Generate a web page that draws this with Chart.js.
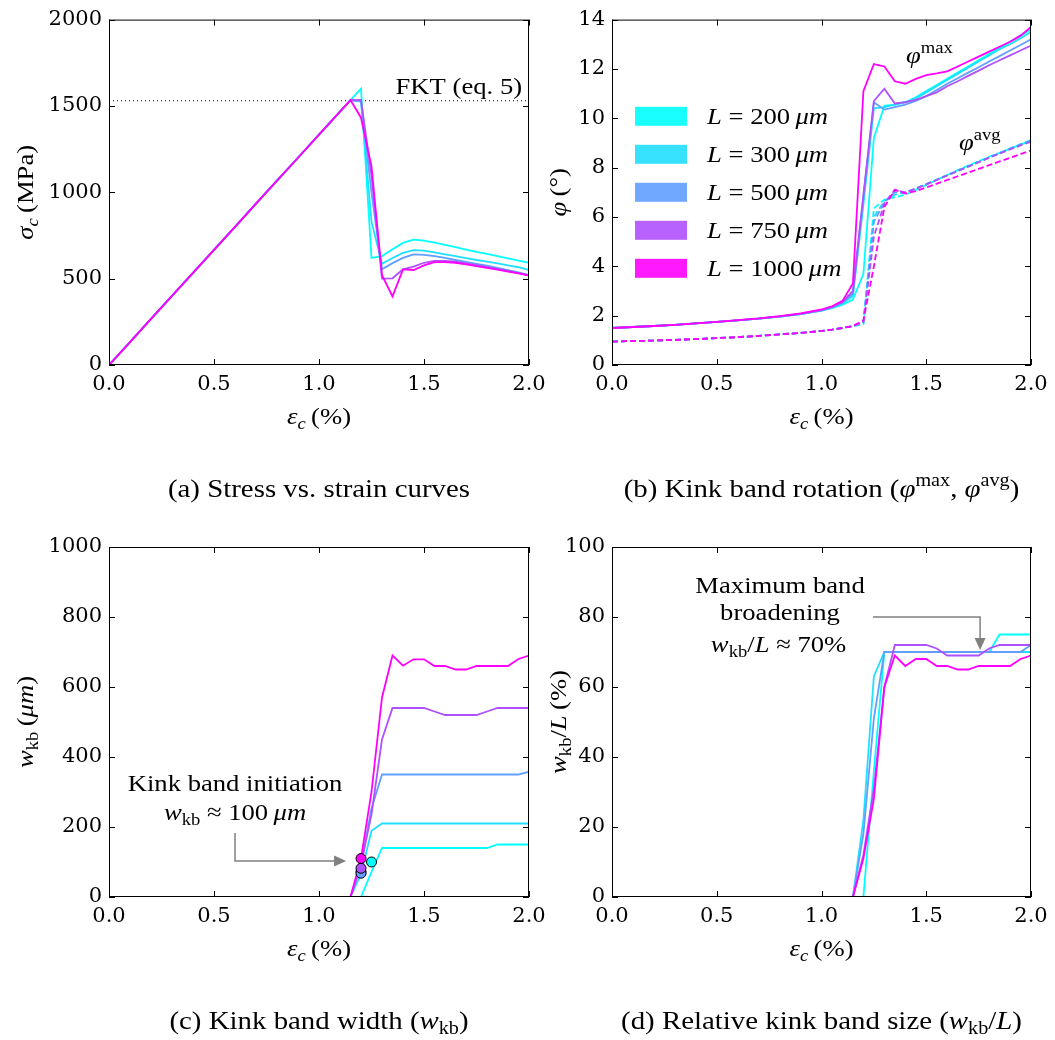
<!DOCTYPE html>
<html><head><meta charset="utf-8">
<script src="https://cdn.jsdelivr.net/npm/chart.js@4.4.1/dist/chart.umd.min.js"></script>
<style>
html,body{margin:0;padding:0;background:#fff;}
#wrap{position:relative;width:1055px;height:1040px;overflow:hidden;background:#fff;}
canvas{position:absolute;}
</style></head><body>
<div id="wrap">
<canvas id="ca" width="560" height="525" style="left:0px;top:0px"></canvas>
<canvas id="cb" width="535" height="525" style="left:520px;top:0px"></canvas>
<canvas id="cc" width="560" height="515" style="left:0px;top:525px"></canvas>
<canvas id="cd" width="535" height="515" style="left:520px;top:525px"></canvas>
</div>
<script>
// ---------------- DATA ----------------
const lengthLabels = ['200', '300', '500', '750', '1000'];
const strain = [0.0,0.1,0.2,0.3,0.4,0.5,0.6,0.7,0.8,0.9,1.0,1.05,1.1,1.15,1.2,1.25,1.3,1.35,1.4,1.45,1.5,1.55,1.6,1.65,1.7,1.75,1.8,1.85,1.9,1.95,2.0];

// (a) stress (MPa)
const stress200  = [0,133,267,400,534,667,800,934,1067,1200,1334,1400,1467,1534,1600,620,630,670,707,726,720,708,695,682,668,655,643,630,617,604,592];
const stress300  = [0,133,267,400,534,667,800,934,1067,1200,1334,1400,1467,1534,1525,830,586,620,649,665,662,652,641,630,619,608,598,588,577,566,550];
const stress500  = [0,133,267,400,534,667,800,934,1067,1200,1334,1400,1467,1534,1528,1000,554,590,620,640,638,630,620,608,597,586,575,562,550,537,520];
const stress750  = [0,133,267,400,534,667,800,934,1067,1200,1334,1400,1467,1534,1535,1100,500,502,554,570,592,603,603,598,588,578,567,555,545,532,520];
const stress1000 = [0,133,267,400,534,667,800,934,1067,1200,1334,1400,1467,1534,1432,1150,520,397,554,550,577,596,596,592,583,573,563,552,541,530,518];
const fktStrain = [0.0, 2.0];
const fktStress = [1530, 1530];

// (b) kink band rotation (deg)
const phiMax200  = [1.5,1.54,1.58,1.63,1.69,1.75,1.81,1.88,1.96,2.06,2.2,2.3,2.45,2.65,3.7,9.2,10.5,10.55,10.65,10.85,11.1,11.35,11.6,11.85,12.1,12.35,12.6,12.85,13.1,13.35,13.6];
const phiMax300  = [1.5,1.54,1.58,1.63,1.69,1.75,1.81,1.88,1.96,2.06,2.2,2.32,2.5,2.8,6.5,10.4,10.45,10.55,10.65,10.8,11.05,11.3,11.55,11.8,12.05,12.3,12.55,12.8,13.0,13.25,13.5];
const phiMax500  = [1.5,1.54,1.58,1.63,1.69,1.75,1.81,1.88,1.96,2.06,2.21,2.33,2.52,2.9,6.8,10.65,10.35,10.45,10.55,10.7,10.9,11.15,11.4,11.62,11.85,12.07,12.3,12.52,12.75,12.97,13.2];
const phiMax750  = [1.5,1.54,1.58,1.63,1.69,1.75,1.81,1.88,1.97,2.07,2.22,2.35,2.55,3.0,6.9,10.7,11.2,10.6,10.65,10.75,10.9,11.05,11.3,11.5,11.72,11.93,12.15,12.35,12.55,12.75,12.95];
const phiMax1000 = [1.5,1.54,1.58,1.63,1.69,1.75,1.82,1.89,1.98,2.09,2.25,2.38,2.6,3.3,11.1,12.2,12.1,11.5,11.4,11.6,11.75,11.82,11.9,12.1,12.3,12.5,12.7,12.9,13.1,13.35,13.7];
const phiAvg200  = [0.95,0.97,0.99,1.02,1.05,1.09,1.13,1.18,1.24,1.3,1.38,1.43,1.5,1.58,1.65,6.35,6.7,6.8,6.9,7.1,7.3,7.5,7.7,7.9,8.08,8.26,8.44,8.6,8.77,8.93,9.1];
const phiAvg300  = [0.95,0.97,0.99,1.02,1.05,1.09,1.13,1.18,1.24,1.3,1.38,1.43,1.5,1.58,1.7,6.0,6.65,6.9,7.0,7.15,7.33,7.52,7.7,7.88,8.06,8.24,8.42,8.6,8.78,8.95,9.12];
const phiAvg500  = [0.95,0.97,0.99,1.02,1.05,1.09,1.13,1.18,1.24,1.3,1.38,1.43,1.5,1.58,1.72,5.8,6.6,7.0,7.0,7.15,7.33,7.5,7.68,7.86,8.04,8.22,8.4,8.58,8.76,8.93,9.1];
const phiAvg750  = [0.95,0.97,0.99,1.02,1.05,1.09,1.13,1.18,1.24,1.3,1.38,1.43,1.5,1.58,1.75,5.2,6.55,7.1,7.0,7.15,7.32,7.5,7.68,7.86,8.04,8.22,8.4,8.57,8.74,8.9,9.05];
const phiAvg1000 = [0.95,0.97,0.99,1.02,1.05,1.09,1.13,1.18,1.24,1.3,1.38,1.43,1.5,1.58,1.8,4.0,6.4,7.1,6.95,7.05,7.2,7.35,7.5,7.65,7.8,7.95,8.1,8.25,8.4,8.55,8.7];

// (c) kink band width (um)
const width200  = [0,0,0,0,0,0,0,0,0,0,0,0,0,0,0,72,140,140,140,140,140,140,140,140,140,140,140,150,150,150,150];
const width300  = [0,0,0,0,0,0,0,0,0,0,0,0,0,0,66,189,210,210,210,210,210,210,210,210,210,210,210,210,210,210,210];
const width500  = [0,0,0,0,0,0,0,0,0,0,0,0,0,0,90,253,350,350,350,350,350,350,350,350,350,350,350,350,350,350,358];
const width750  = [0,0,0,0,0,0,0,0,0,0,0,0,0,0,93,236,450,540,540,540,540,530,520,520,520,520,530,540,540,540,540];
const width1000 = [0,0,0,0,0,0,0,0,0,0,0,0,0,0,110,300,570,690,661,679,679,660,660,650,650,660,660,660,660,680,690];
const initStrain = [1.25, 1.2, 1.2, 1.2, 1.2];
const initWidth  = [100, 72, 68, 82, 110];

// (d) relative kink band size (%)
const ratio200  = [0,0,0,0,0,0,0,0,0,0,0,0,0,0,0,36,70,70,70,70,70,70,70,70,70,70,70,75,75,75,75];
const ratio300  = [0,0,0,0,0,0,0,0,0,0,0,0,0,0,22,63,70,70,70,70,70,70,70,70,70,70,70,70,70,70,70];
const ratio500  = [0,0,0,0,0,0,0,0,0,0,0,0,0,0,18,51,70,70,70,70,70,70,70,70,70,70,70,70,70,70,72];
const ratio750  = [0,0,0,0,0,0,0,0,0,0,0,0,0,0,12,31,60,72,72,72,72,71,69,69,69,69,71,72,72,72,72];
const ratio1000 = [0,0,0,0,0,0,0,0,0,0,0,0,0,0,11,28,60,69,66,68,68,66,66,65,65,66,66,66,66,68,69];

// ---------------- STYLE / LAYOUT ----------------
const COLORS = ['#00ffff', '#20dfff', '#609fff', '#af50ff', '#ff00ff'];
const SERIF = '"Liberation Serif", "Times New Roman", serif';
const TICKFONT = '"DejaVu Serif", serif';
const HS = 1.11;           // horizontal stretch to emulate Computer Modern widths
const TXT = 24;            // in-figure text size
const CAP = 26;            // caption size

const PANELS = {
  a: { left: 0,   top: 0,   l: 109, r: 529,  t: 16,  b: 365 },
  b: { left: 520, top: 0,   l: 612, r: 1031, t: 16,  b: 365 },
  c: { left: 0,   top: 525, l: 109, r: 529,  t: 547, b: 897 },
  d: { left: 520, top: 525, l: 612, r: 1031, t: 547, b: 897 }
};

function segInfo(ctx, seg, size) {
  const t = seg[0], st = seg[1];
  const italic = st[0] === 'i';
  const mod = st[1] || '';
  const fs = mod ? size * 0.7 : size;
  const dy = mod === '_' ? size * 0.2 : (mod === '^' ? -size * 0.42 : 0);
  const font = (italic ? 'italic ' : '') + fs.toFixed(1) + 'px ' + SERIF;
  ctx.font = font;
  return { t, font, dy, w: ctx.measureText(t).width * HS };
}
function drawRich(ctx, segs, x, y, size, align, angle) {
  const items = segs.map(s => segInfo(ctx, s, size));
  const total = items.reduce((a, b) => a + b.w, 0);
  ctx.save();
  ctx.translate(x, y);
  if (angle) ctx.rotate(angle);
  ctx.textBaseline = 'alphabetic';
  ctx.textAlign = 'left';
  ctx.fillStyle = '#000';
  let cx = align === 'center' ? -total / 2 : (align === 'right' ? -total : 0);
  for (const it of items) {
    ctx.save();
    ctx.translate(cx, it.dy);
    ctx.scale(HS, 1);
    ctx.font = it.font;
    ctx.fillText(it.t, 0, 0);
    ctx.restore();
    cx += it.w;
  }
  ctx.restore();
}
function drawArrow(ctx, pts) {
  ctx.save();
  ctx.strokeStyle = '#808080'; ctx.fillStyle = '#808080'; ctx.lineWidth = 1.5;
  const n = pts.length;
  const tx = pts[n - 1][0], ty = pts[n - 1][1];
  const px = pts[n - 2][0], py = pts[n - 2][1];
  const ang = Math.atan2(ty - py, tx - px);
  const L = 12, W = 5.5;
  const bx = tx - L * Math.cos(ang), by = ty - L * Math.sin(ang);
  ctx.beginPath();
  ctx.moveTo(pts[0][0], pts[0][1]);
  for (let i = 1; i < n - 1; i++) ctx.lineTo(pts[i][0], pts[i][1]);
  ctx.lineTo(bx, by);
  ctx.stroke();
  ctx.beginPath();
  ctx.moveTo(tx, ty);
  ctx.lineTo(bx - W * Math.sin(ang), by + W * Math.cos(ang));
  ctx.lineTo(bx + W * Math.sin(ang), by - W * Math.cos(ang));
  ctx.closePath();
  ctx.fill();
  ctx.restore();
}

const decor = {
  id: 'decor',
  afterDatasetsDraw(chart, args, o) {
    const ctx = chart.ctx, a = chart.chartArea;
    const xs = chart.scales.x, ys = chart.scales.y;
    ctx.save();
    ctx.strokeStyle = '#000';
    ctx.lineWidth = 1;
    ctx.strokeRect(a.left + 0.5, a.top + 0.5, a.right - a.left - 1, a.bottom - a.top - 1);
    ctx.beginPath();
    xs.ticks.forEach(t => {
      const p = Math.round(xs.getPixelForValue(t.value)) + 0.5;
      ctx.moveTo(p, a.bottom); ctx.lineTo(p, a.bottom - 6);
      ctx.moveTo(p, a.top); ctx.lineTo(p, a.top + 6);
    });
    ys.ticks.forEach(t => {
      const p = Math.round(ys.getPixelForValue(t.value)) + 0.5;
      ctx.moveTo(a.left, p); ctx.lineTo(a.left + 6, p);
      ctx.moveTo(a.right, p); ctx.lineTo(a.right - 6, p);
    });
    ctx.stroke();
    ctx.restore();
  },
  afterDraw(chart, args, o) {
    const ctx = chart.ctx, a = chart.chartArea;
    const xs = chart.scales.x, ys = chart.scales.y;
    const X = v => xs.getPixelForValue(v), Y = v => ys.getPixelForValue(v);
    const cxA = (a.left + a.right) / 2, cyA = (a.top + a.bottom) / 2;
    drawRich(ctx, o.xLabel, cxA, a.bottom + 59, TXT, 'center', 0);
    drawRich(ctx, o.yLabel, a.left + o.yLabelDx, cyA, TXT, 'center', -Math.PI / 2);
    drawRich(ctx, o.caption, cxA, a.bottom + 132, CAP, 'center', 0);
    (o.texts || []).forEach(t => drawRich(ctx, t.segs, X(t.x), Y(t.y), TXT, t.align, 0));
    (o.arrows || []).forEach(ar => drawArrow(ctx, ar.map(p => [X(p[0]), Y(p[1])])));
    if (o.legend) {
      const L = o.legend;
      L.labels.forEach((lab, k) => {
        const yc = a.top + L.y0 + L.dy * k;
        ctx.save();
        ctx.globalAlpha = 0.9;
        ctx.fillStyle = L.colors[k];
        ctx.fillRect(a.left + L.x0, yc - L.h / 2, L.w, L.h);
        ctx.restore();
        drawRich(ctx, [['L', 'i'], [' = ', 'r'], [lab, 'r'], ['\u2009', 'r'], ['\u03bcm', 'i']], a.left + L.tx, yc + 8, TXT, 'left', 0);
      });
    }
  }
};

function series(vals, color, dash) {
  return {
    type: 'line',
    data: strain.map((x, i) => ({ x: x, y: vals[i] })),
    borderColor: color, borderWidth: 1.8, borderDash: dash || [],
    pointRadius: 0, fill: false, tension: 0
  };
}

function makeChart(id, P, datasets, ymin, ymax, ystep, deco) {
  const cv = document.getElementById(id);
  const W = cv.width, H = cv.height;
  // later datasets in the list are drawn on top (like matplotlib)
  datasets.forEach((d, i) => { d.order = datasets.length - i; });
  return new Chart(cv, {
    type: 'line',
    data: { datasets: datasets },
    options: {
      responsive: false, animation: false, devicePixelRatio: 1,
      layout: { padding: { left: 0, top: P.t - P.top, right: W - (P.r - P.left), bottom: 0 } },
      plugins: { legend: { display: false }, tooltip: { enabled: false }, decor: deco },
      scales: {
        x: {
          type: 'linear', min: 0, max: 2,
          ticks: { stepSize: 0.5, autoSkip: false, maxRotation: 0, color: '#000', padding: 7,
                   font: { family: TICKFONT, size: 21 }, callback: v => Number(v).toFixed(1) },
          grid: { display: false, drawTicks: false }, border: { display: false },
          afterFit: s => { s.height = H - (P.b - P.top); }
        },
        y: {
          type: 'linear', min: ymin, max: ymax,
          ticks: { stepSize: ystep, autoSkip: false, color: '#000', padding: 7,
                   font: { family: TICKFONT, size: 21 }, callback: v => String(v) },
          grid: { display: false, drawTicks: false }, border: { display: false },
          afterFit: s => { s.width = P.l - P.left; }
        }
      }
    },
    plugins: [decor]
  });
}

const xLab = [['\u03b5', 'i'], ['c', 'i_'], ['\u2009(%)', 'r']];

// (a)
makeChart('ca', PANELS.a, [
  { type: 'line', data: fktStrain.map((x, i) => ({ x: x, y: fktStress[i] })), borderColor: '#000', borderWidth: 1,
    borderDash: [1, 3], pointRadius: 0, fill: false },
  series(stress200, COLORS[0]), series(stress300, COLORS[1]), series(stress500, COLORS[2]),
  series(stress750, COLORS[3]), series(stress1000, COLORS[4])
], 0, 2000, 500, {
  xLabel: xLab,
  yLabel: [['\u03c3', 'i'], ['c', 'i_'], ['\u2009(MPa)', 'r']], yLabelDx: -76,
  caption: [['(a) Stress vs. strain curves', 'r']],
  texts: [{ segs: [['FKT (eq. 5)', 'r']], x: 1.967, y: 1570, align: 'right' }]
});

// (b)
makeChart('cb', PANELS.b, [
  series(phiMax200, COLORS[0]), series(phiMax300, COLORS[1]), series(phiMax500, COLORS[2]),
  series(phiMax750, COLORS[3]), series(phiMax1000, COLORS[4]),
  series(phiAvg200, COLORS[0], [6, 3]), series(phiAvg300, COLORS[1], [6, 3]), series(phiAvg500, COLORS[2], [6, 3]),
  series(phiAvg750, COLORS[3], [6, 3]), series(phiAvg1000, COLORS[4], [6, 3])
], 0, 14, 2, {
  xLabel: xLab,
  yLabel: [['\u03c6', 'i'], ['\u2009(\u00b0)', 'r']], yLabelDx: -46,
  caption: [['(b) Kink band rotation (', 'r'], ['\u03c6', 'i'], ['max', 'r^'], [', ', 'r'], ['\u03c6', 'i'], ['avg', 'r^'], [')', 'r']],
  texts: [
    { segs: [['\u03c6', 'i'], ['max', 'r^']], x: 1.403, y: 12.24, align: 'left' },
    { segs: [['\u03c6', 'i'], ['avg', 'r^']], x: 1.656, y: 8.72, align: 'left' }
  ],
  legend: { labels: lengthLabels, colors: COLORS, x0: 23, w: 52, h: 19, y0: 96.7, dy: 38, tx: 95 }
});

// (c)
makeChart('cc', PANELS.c, [
  series(width200, COLORS[0]), series(width300, COLORS[1]), series(width500, COLORS[2]),
  series(width750, COLORS[3]), series(width1000, COLORS[4]),
  { type: 'line', showLine: false, data: initStrain.map((x, i) => ({ x: x, y: initWidth[i] })),
    pointRadius: 5, pointBackgroundColor: COLORS, pointBorderColor: '#000', pointBorderWidth: 1 }
], 0, 1000, 200, {
  xLabel: xLab,
  yLabel: [['w', 'i'], ['kb', 'r_'], ['\u2009(', 'r'], ['\u03bcm', 'i'], [')', 'r']], yLabelDx: -76,
  caption: [['(c) Kink band width (', 'r'], ['w', 'i'], ['kb', 'r_'], [')', 'r']],
  texts: [
    { segs: [['Kink band initiation', 'r']], x: 0.6, y: 303, align: 'center' },
    { segs: [['w', 'i'], ['kb', 'r_'], [' \u2248 100\u2009', 'r'], ['\u03bcm', 'i']], x: 0.6, y: 220, align: 'center' }
  ],
  arrows: [[[0.6, 183], [0.6, 103], [1.129, 103]]]
});

// (d)
makeChart('cd', PANELS.d, [
  series(ratio200, COLORS[0]), series(ratio300, COLORS[1]), series(ratio500, COLORS[2]),
  series(ratio750, COLORS[3]), series(ratio1000, COLORS[4])
], 0, 100, 20, {
  xLabel: xLab,
  yLabel: [['w', 'i'], ['kb', 'r_'], ['/', 'r'], ['L', 'i'], ['\u2009(%)', 'r']], yLabelDx: -46,
  caption: [['(d) Relative kink band size (', 'r'], ['w', 'i'], ['kb', 'r_'], ['/', 'r'], ['L', 'i'], [')', 'r']],
  texts: [
    { segs: [['Maximum band', 'r']], x: 0.802, y: 86.9, align: 'center' },
    { segs: [['broadening', 'r']], x: 0.802, y: 79.1, align: 'center' },
    { segs: [['w', 'i'], ['kb', 'r_'], ['/', 'r'], ['L', 'i'], [' \u2248 70%', 'r']], x: 0.795, y: 70, align: 'center' }
  ],
  arrows: [[[1.246, 80], [1.757, 80], [1.757, 70.6]]]
});
</script>
</body></html>
